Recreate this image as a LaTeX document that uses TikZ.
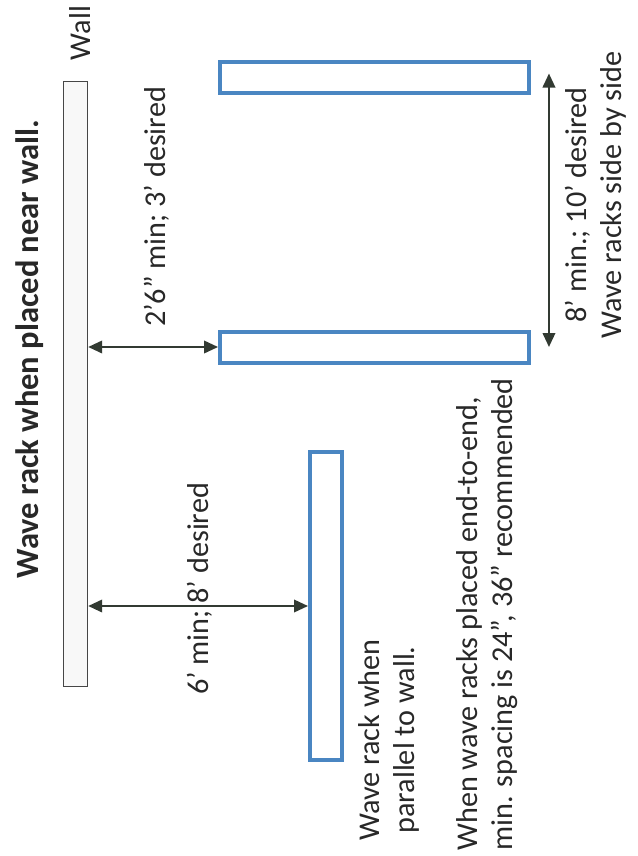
\documentclass[tikz,border=0pt]{standalone}
\usepackage{fontspec}
\setmainfont{Carlito}
\usepackage{tikz}
\usetikzlibrary{arrows.meta, positioning, calc}
\definecolor{rackblue}{RGB}{74,134,194}
\definecolor{wallgray}{RGB}{70,70,70}
\definecolor{wallfill}{RGB}{248,248,248}
\definecolor{dimdark}{RGB}{50,58,50}
\definecolor{textgray}{RGB}{40,40,40}
\tikzset{
  rack/.style={
    rectangle, draw=rackblue, line width=0.08cm, fill=white, inner sep=0pt
  },
  wallbox/.style={
    rectangle, draw=wallgray, line width=0.8pt, fill=wallfill, inner sep=0pt,
    minimum width=0.48cm, minimum height=12.1cm
  },
  lbl/.style={
    rotate=90, inner sep=0pt, text=textgray, font=\fontsize{17.2}{20}\selectfont
  },
  dimarrow/.style={{Triangle[length=2.8mm,width=2.5mm]}-{Triangle[length=2.8mm,width=2.5mm]}, line width=1.2pt, draw=dimdark}
}

\begin{document}
\begin{tikzpicture}[x=0.02cm, y=-0.02cm]
\useasboundingbox (0,0) rectangle (637,856);

% Wall
\node[wallbox] (wall) at (75.5,384) {};
\node[lbl] (walllbl) at (80,33) {Wall};
\node[lbl, font=\fontsize{18.5}{22}\selectfont\bfseries] (title) at (30,349) {Wave rack when placed near wall.};

% Racks side by side
\node[rack, minimum width=6.18cm, minimum height=0.62cm] (rackA) at (374.5,77.5) {};
\node[rack, minimum width=6.18cm, minimum height=0.62cm] (rackB) at (374.5,347) {};
\draw[dimarrow] (rackB.west -| wall.east) -- (rackB.west);
\node[lbl] (gapA) at (157,207) {2’6” min; 3’ desired};
\draw[dimarrow] ([xshift=0.36cm,yshift=0.08cm]rackA.east) -- ([xshift=0.36cm]rackB.east);
\node[lbl] (gapB) at (578,205) {8’ min.; 10’ desired};
\node[lbl] (sidenote) at (613,195) {Wave racks side by side};

% Rack parallel to wall
\node[rack, minimum width=0.64cm, minimum height=6.16cm] (rackC) at (326,606) {};
\draw[dimarrow] (rackC.west -| wall.east) -- (rackC.west);
\node[lbl] (gapC) at (200,589) {6’ min; 8’ desired};
\node[lbl, align=center] (parnote) at (389,740) {Wave rack when\\parallel to wall.};
\node[lbl, align=left, anchor=west] (endnote) at (487.5,851) {When wave racks placed end-to-end,\\min. spacing is 24”, 36” recommended};

\end{tikzpicture}
\end{document}
